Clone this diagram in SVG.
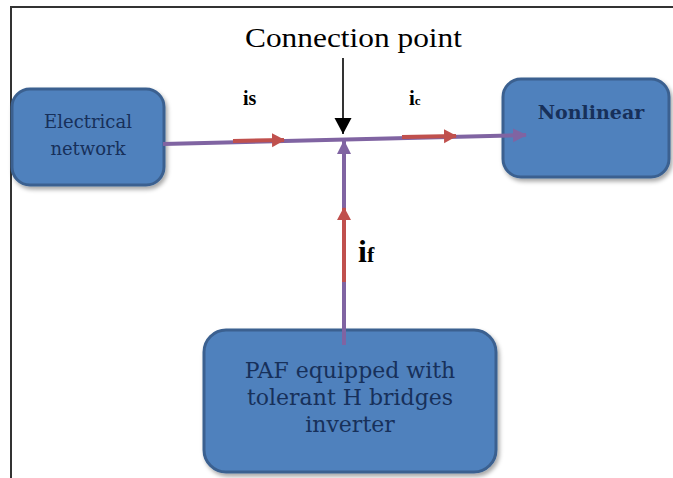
<svg xmlns="http://www.w3.org/2000/svg" width="673" height="478" viewBox="0 0 673 478">
<defs>
<style>
.box{fill:#4f81bd;stroke:#3b6190;stroke-width:3}
.bt{font-family:"DejaVu Serif","Liberation Serif",serif;fill:#17305a;text-anchor:middle}
.lbl{font-family:"Liberation Serif","Times New Roman",serif;fill:#000;font-weight:bold}
.wire{stroke:#8064a2;stroke-width:4;fill:none}
.red{stroke:#c0504d;stroke-width:4;fill:none}
</style>
<marker id="mp" markerWidth="16" markerHeight="16" refX="13" refY="8" orient="auto" markerUnits="userSpaceOnUse"><path d="M0,1 L14,8 L0,15 z" fill="#8064a2"/></marker>
<marker id="mr" markerWidth="16" markerHeight="16" refX="12" refY="8" orient="auto" markerUnits="userSpaceOnUse"><path d="M0,1 L13,8 L0,15 z" fill="#c0504d"/></marker>
<marker id="mb" markerWidth="18" markerHeight="18" refX="16" refY="9" orient="auto" markerUnits="userSpaceOnUse"><path d="M0,0.5 L16,9 L0,17.5 z" fill="#000"/></marker>
<filter id="sh" x="-10%" y="-10%" width="130%" height="130%"><feDropShadow dx="2" dy="3" stdDeviation="2" flood-color="#000" flood-opacity="0.35"/></filter>
</defs>
<rect width="673" height="478" fill="#fff"/>
<path d="M11,478 V7 H673" fill="none" stroke="#333" stroke-width="2"/>
<g id="electrical-network">
<rect class="box" x="12" y="89" width="152" height="96" rx="18" filter="url(#sh)"/>
<text class="bt" x="88" y="128" font-size="18">Electrical</text>
<text class="bt" x="88" y="155" font-size="18">network</text>
</g>
<g id="nonlinear">
<rect class="box" x="503" y="79" width="166" height="98" rx="18" filter="url(#sh)"/>
<text class="bt" x="591" y="119" font-size="19" font-weight="bold">Nonlinear</text>
</g>
<g id="paf">
<rect class="box" x="204" y="330" width="292" height="142" rx="22" filter="url(#sh)"/>
<text class="bt" x="350" y="378" font-size="22">PAF equipped with</text>
<text class="bt" x="350" y="405" font-size="22">tolerant H bridges</text>
<text class="bt" x="350" y="432" font-size="22">inverter</text>
</g>
<g id="connectors">
<line class="wire" x1="163" y1="144" x2="526" y2="135" marker-end="url(#mp)"/>
<line class="wire" x1="344" y1="345" x2="344" y2="141" marker-end="url(#mp)"/>
<line class="red" x1="233" y1="141" x2="284" y2="140" marker-end="url(#mr)"/>
<line class="red" x1="402" y1="137" x2="456" y2="136" marker-end="url(#mr)"/>
<line class="red" x1="344" y1="282" x2="344" y2="208" marker-end="url(#mr)"/>
<line x1="343" y1="58" x2="343" y2="134" stroke="#000" stroke-width="1.6" marker-end="url(#mb)"/>
</g>
<g id="labels">
<text x="245" y="47" font-family="'Liberation Serif','Times New Roman',serif" font-size="28" textLength="217" lengthAdjust="spacingAndGlyphs" fill="#000">Connection point</text>
<text class="lbl" x="243" y="105" font-size="20">is</text>
<text class="lbl" x="409" y="105" font-size="21">i<tspan font-size="13">c</tspan></text>
<text class="lbl" x="358" y="262" font-size="32">i<tspan font-size="22">f</tspan></text>
</g>
</svg>
